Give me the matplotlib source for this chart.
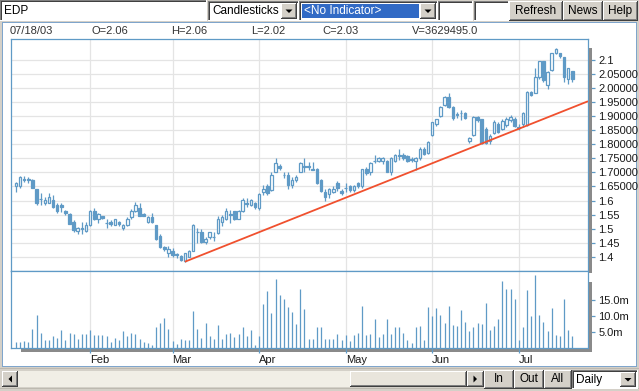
import numpy as np
import pandas as pd
import matplotlib
matplotlib.use("Agg")
import matplotlib.pyplot as plt
from matplotlib.patches import Rectangle, Polygon

# ---------------- data ----------------
symbol = "EDP"
dates = pd.bdate_range("2003-01-08", "2003-07-18").drop(pd.to_datetime(["2003-04-18", "2003-05-01"]))

opens = [1.652, 1.652, 1.676, 1.675, 1.673, 1.641, 1.605, 1.591, 1.591, 1.602,
         1.584, 1.584, 1.563, 1.552, 1.524, 1.492, 1.501, 1.492, 1.513, 1.563,
         1.535, 1.545, 1.521, 1.524, 1.513, 1.524, 1.503, 1.513, 1.542, 1.563,
         1.574, 1.552, 1.524, 1.542, 1.513, 1.474, 1.435, 1.414, 1.421, 1.410,
         1.403, 1.385, 1.400, 1.421, 1.490, 1.489, 1.453, 1.471, 1.471, 1.485,
         1.524, 1.535, 1.551, 1.563, 1.535, 1.563, 1.591, 1.584, 1.591, 1.574,
         1.630, 1.652, 1.638, 1.701, 1.723, 1.691, 1.691, 1.655, 1.673, 1.700,
         1.721, 1.721, 1.711, 1.712, 1.673, 1.630, 1.623, 1.630, 1.662, 1.634,
         1.646, 1.652, 1.638, 1.662, 1.652, 1.712, 1.701, 1.741, 1.740, 1.740,
         1.740, 1.700, 1.740, 1.761, 1.762, 1.758, 1.746, 1.740, 1.751, 1.783,
         1.769, 1.833, 1.872, 1.900, 1.939, 1.967, 1.932, 1.906, 1.911, 1.911,
         1.811, 1.833, 1.896, 1.889, 1.854, 1.810, 1.840, 1.872, 1.854, 1.868,
         1.886, 1.889, 1.861, 1.872, 1.868, 1.985, 1.982, 2.038, 2.095, 2.010,
         2.063, 2.123, 2.123, 2.109, 2.031, 2.060]
highs = [1.665, 1.688, 1.686, 1.684, 1.676, 1.642, 1.627, 1.612, 1.625, 1.620,
         1.590, 1.590, 1.566, 1.555, 1.530, 1.505, 1.524, 1.525, 1.565, 1.575,
         1.555, 1.546, 1.535, 1.530, 1.535, 1.526, 1.515, 1.540, 1.570, 1.595,
         1.590, 1.556, 1.545, 1.555, 1.514, 1.480, 1.440, 1.440, 1.430, 1.414,
         1.405, 1.414, 1.425, 1.515, 1.503, 1.500, 1.470, 1.490, 1.487, 1.545,
         1.550, 1.575, 1.567, 1.564, 1.565, 1.610, 1.610, 1.605, 1.595, 1.625,
         1.655, 1.660, 1.700, 1.750, 1.730, 1.700, 1.700, 1.685, 1.690, 1.735,
         1.750, 1.735, 1.735, 1.715, 1.675, 1.640, 1.645, 1.650, 1.670, 1.640,
         1.662, 1.655, 1.655, 1.665, 1.712, 1.720, 1.735, 1.762, 1.755, 1.755,
         1.745, 1.755, 1.765, 1.783, 1.770, 1.760, 1.755, 1.755, 1.790, 1.790,
         1.810, 1.880, 1.890, 1.935, 1.970, 1.982, 1.935, 1.915, 1.920, 1.915,
         1.825, 1.900, 1.900, 1.890, 1.860, 1.835, 1.885, 1.880, 1.890, 1.895,
         1.905, 1.895, 1.870, 1.915, 1.990, 1.990, 2.070, 2.095, 2.096, 2.060,
         2.125, 2.140, 2.125, 2.110, 2.070, 2.060]
lows = [1.630, 1.645, 1.665, 1.662, 1.645, 1.585, 1.584, 1.585, 1.590, 1.575,
        1.555, 1.560, 1.550, 1.515, 1.490, 1.480, 1.482, 1.490, 1.510, 1.530,
        1.520, 1.535, 1.503, 1.510, 1.513, 1.510, 1.495, 1.510, 1.535, 1.560,
        1.545, 1.545, 1.520, 1.520, 1.460, 1.430, 1.420, 1.398, 1.400, 1.397,
        1.385, 1.383, 1.400, 1.420, 1.450, 1.450, 1.445, 1.465, 1.456, 1.480,
        1.510, 1.530, 1.520, 1.530, 1.535, 1.560, 1.577, 1.580, 1.570, 1.565,
        1.620, 1.620, 1.635, 1.700, 1.710, 1.680, 1.640, 1.645, 1.665, 1.700,
        1.700, 1.710, 1.707, 1.660, 1.630, 1.600, 1.610, 1.625, 1.635, 1.620,
        1.630, 1.630, 1.630, 1.645, 1.645, 1.690, 1.690, 1.733, 1.735, 1.730,
        1.700, 1.690, 1.735, 1.745, 1.745, 1.735, 1.735, 1.708, 1.745, 1.760,
        1.765, 1.830, 1.865, 1.895, 1.935, 1.930, 1.885, 1.893, 1.885, 1.890,
        1.805, 1.830, 1.880, 1.800, 1.800, 1.800, 1.835, 1.840, 1.850, 1.860,
        1.880, 1.860, 1.850, 1.860, 1.865, 1.970, 1.980, 2.030, 2.020, 1.995,
        2.060, 2.120, 2.105, 2.020, 2.015, 2.020]
closes = [1.662, 1.684, 1.674, 1.673, 1.645, 1.591, 1.604, 1.602, 1.613, 1.578,
          1.563, 1.577, 1.556, 1.517, 1.496, 1.503, 1.499, 1.513, 1.563, 1.535,
          1.552, 1.538, 1.519, 1.517, 1.535, 1.517, 1.513, 1.535, 1.563, 1.584,
          1.545, 1.545, 1.542, 1.524, 1.464, 1.435, 1.428, 1.428, 1.407, 1.405,
          1.390, 1.414, 1.421, 1.513, 1.488, 1.453, 1.464, 1.489, 1.469, 1.535,
          1.542, 1.563, 1.549, 1.535, 1.563, 1.602, 1.589, 1.602, 1.577, 1.623,
          1.641, 1.627, 1.691, 1.733, 1.716, 1.689, 1.655, 1.673, 1.684, 1.733,
          1.719, 1.719, 1.709, 1.662, 1.634, 1.613, 1.641, 1.641, 1.645, 1.627,
          1.644, 1.638, 1.652, 1.652, 1.712, 1.698, 1.733, 1.739, 1.751, 1.751,
          1.701, 1.751, 1.762, 1.759, 1.751, 1.740, 1.744, 1.751, 1.783, 1.765,
          1.808, 1.879, 1.889, 1.932, 1.967, 1.932, 1.893, 1.904, 1.909, 1.893,
          1.822, 1.896, 1.886, 1.804, 1.804, 1.829, 1.879, 1.843, 1.882, 1.889,
          1.896, 1.865, 1.859, 1.911, 1.985, 1.975, 2.038, 2.095, 2.028, 2.056,
          2.123, 2.138, 2.113, 2.038, 2.070, 2.030]
volumes_m = [2.0, 2.0, 2.3, 2.0, 6.0, 10.4, 4.8, 2.6, 2.6, 3.9,
             3.2, 5.7, 2.6, 4.8, 4.5, 2.9, 4.5, 4.5, 5.5, 4.2,
             4.2, 4.2, 3.9, 2.0, 3.2, 2.4, 5.4, 3.9, 4.8, 4.5,
             2.9, 2.0, 1.7, 1.0, 6.7, 7.9, 9.5, 6.0, 2.3, 1.4,
             2.9, 2.6, 2.6, 11.7, 6.0, 3.2, 7.9, 3.9, 2.9, 7.3,
             2.9, 4.5, 4.8, 3.5, 4.5, 6.7, 3.9, 5.7, 1.0, 3.9,
             13.9, 17.9, 11.0, 21.7, 16.7, 15.4, 12.9, 11.4, 7.6, 18.5,
             12.3, 2.9, 2.9, 6.7, 6.7, 2.9, 2.9, 2.9, 4.5, 2.6,
             4.2, 2.3, 4.2, 4.8, 13.2, 4.2, 4.5, 9.2, 3.5, 4.5,
             9.2, 4.5, 6.7, 6.7, 4.8, 2.6, 1.7, 6.7, 7.0, 2.6,
             12.9, 10.1, 12.6, 10.4, 7.9, 13.2, 7.3, 7.0, 12.0, 8.2,
             5.4, 6.7, 7.9, 7.6, 14.2, 5.7, 7.0, 9.2, 21.0, 18.5,
             18.5, 15.4, 2.6, 6.7, 18.2, 10.1, 22.9, 10.4, 8.2, 5.4,
             12.6, 4.2, 3.9, 15.4, 5.7, 3.629495]

price_ticks = [1.4, 1.45, 1.5, 1.55, 1.6, 1.65, 1.7, 1.75, 1.8, 1.85, 1.9, 1.95, 2.0, 2.05, 2.1]
price_tick_labels = ["1.4", "1.45", "1.5", "1.55", "1.6", "1.65000", "1.70000", "1.75000",
                     "1.80000", "1.85000", "1.90000", "1.95000", "2.00000", "2.05000", "2.1"]
vol_ticks = [5, 10, 15]
vol_tick_labels = ["5.0m", "10.0m", "15.0m"]

# trend line anchors (bar index, price)
trend_x = [41, 113]
trend_y = [1.383, 1.802]

# ---------------- figure ----------------
W, H = 639, 391
fig = plt.figure(figsize=(W / 100, H / 100), dpi=100, facecolor="#D4D0C8")
FONT = "Liberation Sans"
BLUE = "#5F9AC6"
GRID = "#E4E4E4"
FRAME = "#7FA5CC"


def R(x0, y0, x1, y1, fc, z=3):
    fig.add_artist(Rectangle((x0 / W, 1 - y1 / H), (x1 - x0) / W, (y1 - y0) / H,
                             transform=fig.transFigure, facecolor=fc, edgecolor="none",
                             zorder=z, antialiased=False))


def T(x, y, s, z=5, **kw):
    kw.setdefault("fontsize", 8)
    kw.setdefault("color", "black")
    fig.text(x / W, 1 - y / H, s, va="center", family=FONT, zorder=z, **kw)


def tri(pts, z=5):
    fig.add_artist(Polygon([(px / W, 1 - py / H) for px, py in pts], closed=True,
                           transform=fig.transFigure, facecolor="black",
                           edgecolor="none", zorder=z))


def raised(x0, y0, x1, y1, fc="#D4D0C8", z=3):
    R(x0, y0, x1, y1, fc, z)
    R(x0, y0, x1, y0 + 1, "white", z)
    R(x0, y0, x0 + 1, y1, "white", z)
    R(x0, y1 - 1, x1, y1, "#404040", z)
    R(x1 - 1, y0, x1, y1, "#404040", z)
    R(x0 + 1, y1 - 2, x1 - 1, y1 - 1, "#808080", z)
    R(x1 - 2, y0 + 1, x1 - 1, y1 - 1, "#808080", z)


def sunken(x0, y0, x1, y1, fc="white", z=3):
    R(x0, y0, x1, y1, fc, z)
    R(x0, y0, x1, y0 + 1, "#808080", z)
    R(x0, y0, x0 + 1, y1, "#808080", z)
    R(x0 + 1, y0 + 1, x1 - 1, y0 + 2, "#404040", z)
    R(x0 + 1, y0 + 1, x0 + 2, y1 - 1, "#404040", z)
    R(x0, y1 - 1, x1, y1, "white", z)
    R(x1 - 1, y0, x1, y1, "white", z)


def dropdown(x0, y0, x1, y1):
    sunken(x0, y0, x1, y1)
    bx0, bx1 = x1 - 18, x1 - 2
    raised(bx0, y0 + 2, bx1, y1 - 2)
    cx, cy = (bx0 + bx1) / 2, (y0 + y1) / 2
    tri([(cx - 3.5, cy - 1.5), (cx + 3.5, cy - 1.5), (cx, cy + 2)])


# chart frame (white area with blue border)
R(2, 22, 637, 367, "white", z=-5)
R(2, 22, 637, 23, FRAME, z=-4)
R(2, 22, 3, 367, FRAME, z=-4)
R(636, 22, 637, 367, FRAME, z=-4)
R(2, 366, 637, 367, FRAME, z=-4)

# ---------------- axes ----------------
axL, axR = 11, 588
pT, pB = 39, 271
vT, vB = 271, 348
ax = fig.add_axes([axL / W, 1 - pB / H, (axR - axL) / W, (pB - pT) / H])
axv = fig.add_axes([axL / W, 1 - vB / H, (axR - axL) / W, (vB - vT) / H])

x = np.arange(len(dates))
o = np.array(opens); c = np.array(closes); hi = np.array(highs); lo = np.array(lows)
vol = np.array(volumes_m)

month_idx = [i for i in range(1, len(dates)) if dates[i].month != dates[i - 1].month]
month_lbl = [dates[i].strftime("%b") for i in month_idx]

xmin, xmax = -1.2, 138.8
for a in (ax, axv):
    a.set_xlim(xmin, xmax)
    a.set_facecolor("white")
    for s in a.spines.values():
        s.set_color(BLUE)
        s.set_linewidth(0.9)
    for m in month_idx:
        a.axvline(m, color=GRID, lw=0.9, zorder=0)

ax.set_ylim(1.350, 2.173)
for t in price_ticks:
    ax.axhline(t, color=GRID, lw=0.9, zorder=0)

# candles
ax.vlines(x, lo, hi, color=BLUE, lw=0.9, zorder=2)
up = c >= o
bottoms = np.minimum(o, c)
heights = np.maximum(np.abs(c - o), 0.0015)
ax.bar(x[up], heights[up], bottom=bottoms[up], width=0.62, facecolor="white",
       edgecolor=BLUE, linewidth=0.9, zorder=3)
ax.bar(x[~up], heights[~up], bottom=bottoms[~up], width=0.62, facecolor=BLUE,
       edgecolor=BLUE, linewidth=0.9, zorder=3)

# trend line
slope = (trend_y[1] - trend_y[0]) / (trend_x[1] - trend_x[0])
tx = np.array([trend_x[0], xmax])
ax.plot(tx, trend_y[0] + slope * (tx - trend_x[0]), color="#F0502E", lw=1.3,
        zorder=4, solid_capstyle="butt")

ax.yaxis.tick_right()
ax.set_yticks(price_ticks)
ax.set_yticklabels(price_tick_labels, family=FONT)
ax.tick_params(axis="y", direction="out", length=5, width=0.9, color=BLUE,
               pad=2.5, labelsize=8, labelcolor="#1A1A1A")
ax.set_xticks([])

# volume
axv.vlines(x, 0, vol, color=BLUE, lw=0.9, zorder=2)
axv.set_ylim(0, 24.06)
axv.yaxis.tick_right()
axv.set_yticks(vol_ticks)
axv.set_yticklabels(vol_tick_labels, family=FONT)
axv.tick_params(axis="y", direction="out", length=5, width=0.9, color=BLUE,
                pad=2.5, labelsize=8, labelcolor="#1A1A1A")
axv.set_xticks(month_idx)
axv.set_xticklabels(month_lbl, family=FONT)
axv.tick_params(axis="x", direction="out", length=3.8, width=0.9, color=BLUE,
                pad=1.5, labelsize=8, labelcolor="#1A1A1A")
for lbl in axv.get_xticklabels():
    lbl.set_ha("left")

# drop shadows
R(589, 48, 592, 273, "#8A8A8A", z=2)
R(589, 282, 592, 352, "#8A8A8A", z=2)
R(21, 349, 592, 352, "#8A8A8A", z=-1)

# info line
last = len(dates) - 1
T(10, 31, dates[last].strftime("%m/%d/%y"), color="#333333")
T(91, 31, f"O={opens[last]:.2f}", color="#333333")
T(171, 31, f"H={highs[last]:.2f}", color="#333333")
T(251, 31, f"L={lows[last]:.2f}", color="#333333")
T(322, 31, f"C={closes[last]:.2f}", color="#333333")
T(412, 31, f"V={volumes_m[last] * 1e6:.1f}", color="#333333")

# ---------------- toolbar ----------------
sunken(0, 0, 207, 21)
T(4, 11, symbol, fontsize=8.5)
dropdown(208, 1, 299, 21)
T(212, 11, "Candlesticks", fontsize=8.5)
dropdown(299, 1, 438, 21)
R(302, 4, 419, 18, "#316AC5", z=4)
T(304, 11, "<No Indicator>", fontsize=8.5, color="white")
sunken(438, 1, 473, 21)
sunken(474, 1, 509, 21)
for (bx0, bx1, lab) in [(509, 563, "Refresh"), (563, 603, "News"), (603, 638, "Help")]:
    raised(bx0, 1, bx1, 21)
    T((bx0 + bx1) / 2, 11, lab, fontsize=8.5, ha="center")

# ---------------- bottom bar ----------------
R(0, 368, 639, 369, "#BDB9B0", z=2)
R(0, 388, 639, 389, "#BDB9B0", z=2)
R(18, 371, 467, 387, "#F1EEE6", z=2)
raised(2, 371, 18, 387)
tri([(12, 375.5), (12, 382.5), (8.5, 379)])
raised(350, 371, 467, 387, fc="#E9E5DC")
raised(467, 371, 484, 387)
tri([(473.5, 375.5), (473.5, 382.5), (477, 379)])
for (bx0, bx1, lab) in [(484, 514, "In"), (514, 544, "Out"), (544, 572, "All")]:
    raised(bx0, 370, bx1, 389)
    T((bx0 + bx1) / 2, 379.5, lab, fontsize=8.5, ha="center")
dropdown(572, 370, 638, 389)
T(576, 379.5, "Daily", fontsize=8.5)

fig.savefig("out.png", dpi=100, facecolor=fig.get_facecolor())
